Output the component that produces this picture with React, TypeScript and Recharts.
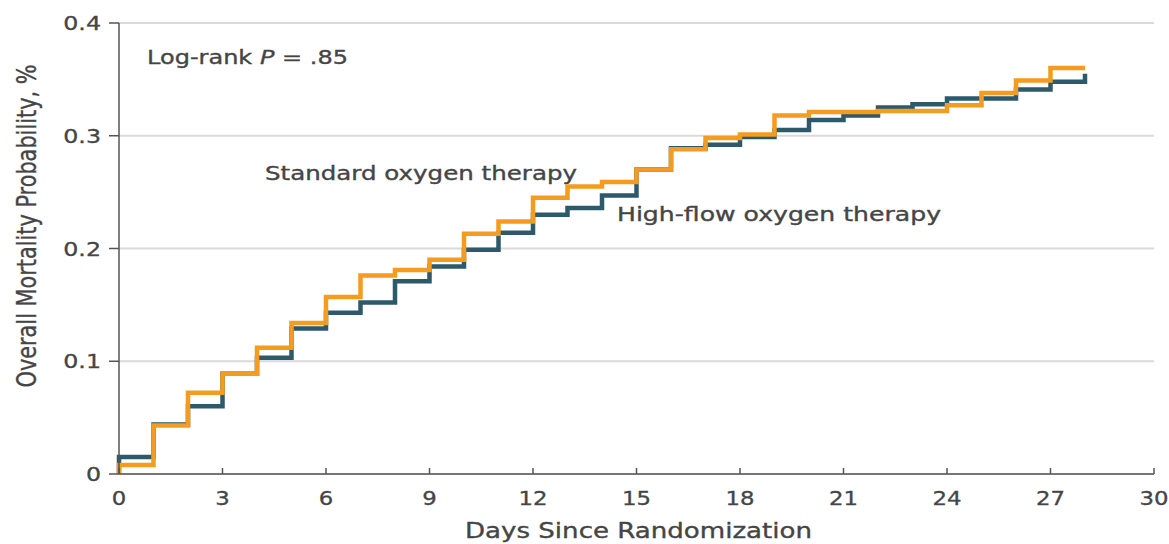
import React from "react";
import { LineChart, Line, XAxis, YAxis, CartesianGrid, Customized } from "recharts";

const days = [0, 0, 1, 2, 3, 4, 5, 6, 7, 8, 9, 10, 11, 12, 13, 14, 15, 16, 17, 18, 19, 20, 21, 22, 23, 24, 25, 26, 27, 28];
const standardOxygen = [0, 0.008, 0.043, 0.072, 0.089, 0.112, 0.134, 0.157, 0.176, 0.181, 0.19, 0.213, 0.224, 0.245, 0.255, 0.259, 0.27, 0.288, 0.298, 0.301, 0.318, 0.321, 0.321, 0.322, 0.322, 0.327, 0.338, 0.349, 0.36, 0.36];
const highFlowOxygen = [0, 0.015, 0.044, 0.06, 0.089, 0.103, 0.129, 0.143, 0.152, 0.171, 0.184, 0.199, 0.214, 0.23, 0.236, 0.247, 0.27, 0.289, 0.292, 0.299, 0.305, 0.314, 0.318, 0.325, 0.328, 0.333, 0.333, 0.341, 0.348, 0.355];
const xTicks = [0, 3, 6, 9, 12, 15, 18, 21, 24, 27, 30];
const yTicks = [0, 0.1, 0.2, 0.3, 0.4];

const rows = days.map((d, i) => ({ day: d, standard: standardOxygen[i], highFlow: highFlowOxygen[i] }));

const TEXT = "#454545";
const FONT = "'DejaVu Sans', Verdana, sans-serif";

const XTick = (props: any) => {
  const { x, y, payload } = props;
  return (
    <g>
      <line x1={x} x2={x} y1={y} y2={y - 6} stroke="#555" strokeWidth={1.5} />
      <text
        transform={`translate(${x},${y + 31}) scale(1.2,1)`}
        x={0}
        y={0}
        textAnchor="middle"
        fontFamily={FONT}
        fontSize={19}
        fill={TEXT}
        stroke={TEXT}
        strokeWidth={0.3}
      >
        {payload.value}
      </text>
    </g>
  );
};

const YTick = (props: any) => {
  const { x, y, payload } = props;
  const v = payload.value === 0 ? "0" : String(payload.value);
  return (
    <text
      transform={`translate(${x},${y + 7}) scale(1.25,1)`}
      x={0}
      y={0}
      textAnchor="end"
      fontFamily={FONT}
      fontSize={19}
      fill={TEXT}
      stroke={TEXT}
      strokeWidth={0.3}
    >
      {v}
    </text>
  );
};

const Annotations = () => (
  <g fontFamily={FONT} fill={TEXT} stroke={TEXT} strokeWidth={0.35}>
    <text x={147} y={64} fontSize={19} textLength={201} lengthAdjust="spacingAndGlyphs">
      Log-rank <tspan fontStyle="italic">P</tspan> = .85
    </text>
    <text x={265} y={180} fontSize={19} textLength={312} lengthAdjust="spacingAndGlyphs">
      Standard oxygen therapy
    </text>
    <text x={617} y={221} fontSize={19} textLength={324} lengthAdjust="spacingAndGlyphs">
      High-flow oxygen therapy
    </text>
    <text x={465} y={538} fontSize={21} textLength={347} lengthAdjust="spacingAndGlyphs">
      Days Since Randomization
    </text>
    <text
      x={36}
      y={226}
      transform="rotate(-90, 36, 226)"
      textAnchor="middle"
      fontFamily="'Liberation Sans Narrow', 'DejaVu Sans Condensed', 'Liberation Sans', sans-serif"
      fontSize={27}
      textLength={323}
      lengthAdjust="spacingAndGlyphs"
    >
      Overall Mortality Probability, %
    </text>
  </g>
);

export default function App() {
  return (
    <div style={{ position: "absolute", left: 0, top: 0, background: "#fff" }}>
      <LineChart width={1169} height={544} data={rows} margin={{ top: 23, right: 15, bottom: 0, left: 0 }}>
        <CartesianGrid vertical={false} stroke="#dadada" strokeWidth={2} />
        <XAxis
          dataKey="day"
          type="number"
          domain={[0, 30]}
          ticks={xTicks}
          height={70}
          tickLine={false}
          tickSize={0}
          tickMargin={0}
          axisLine={{ stroke: "#555", strokeWidth: 1.5 }}
          tick={<XTick />}
          interval={0}
        />
        <YAxis
          type="number"
          domain={[0, 0.4]}
          ticks={yTicks}
          width={119}
          tickSize={10}
          tickMargin={8}
          tickLine={{ stroke: "#555", strokeWidth: 1.5 }}
          axisLine={{ stroke: "#555", strokeWidth: 1.5 }}
          tick={<YTick />}
          interval={0}
        />
        <Line
          type="stepAfter"
          dataKey="highFlow"
          stroke="#2c5a6b"
          strokeWidth={4.5}
          dot={false}
          isAnimationActive={false}
        />
        <Line
          type="stepAfter"
          dataKey="standard"
          stroke="#f39c1f"
          strokeWidth={4.5}
          dot={false}
          isAnimationActive={false}
        />
        <Customized component={Annotations} />
      </LineChart>
    </div>
  );
}
